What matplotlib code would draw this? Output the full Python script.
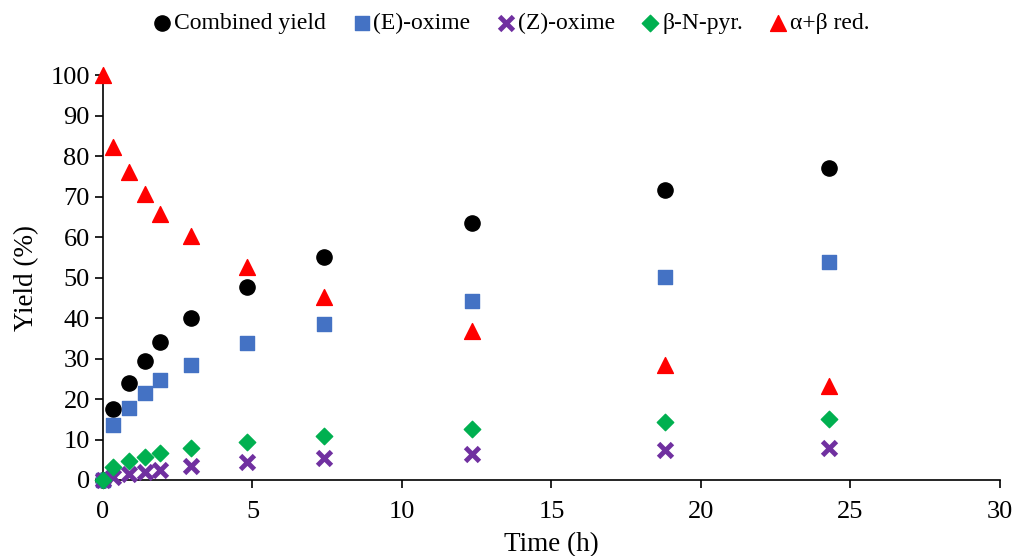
import matplotlib.pyplot as plt

# time points (h)
time = [0, 0.33, 0.87, 1.4, 1.9, 2.94, 4.8, 7.4, 12.34, 18.8, 24.3]

combined = [0, 17.6, 24.0, 29.5, 34.2, 40.0, 47.7, 55.0, 63.5, 71.5, 77.0]
e_oxime = [0, 13.5, 17.8, 21.5, 24.8, 28.3, 33.8, 38.6, 44.3, 50.1, 53.8]
z_oxime = [0, 0.8, 1.5, 2.0, 2.5, 3.4, 4.4, 5.4, 6.5, 7.3, 8.0]
b_n_pyr = [0, 3.3, 4.6, 5.7, 6.6, 7.8, 9.4, 10.8, 12.5, 14.2, 15.0]
ab_red = [100, 82.3, 76.0, 70.6, 65.8, 60.2, 52.5, 45.2, 36.7, 28.5, 23.3]

plt.rcParams['font.family'] = ['Liberation Serif', 'DejaVu Serif']

fig = plt.figure(figsize=(10.14, 5.56), dpi=100)
ax = fig.add_axes([0.1016, 0.1367, 0.8844, 0.7283])

kw = dict(zorder=3, clip_on=False)
ax.scatter(time, combined, marker='o', s=120, color='black', label='Combined yield', **kw)
ax.scatter(time, e_oxime, marker='s', s=100, color='#4472C4', label='(E)-oxime', **kw)
ax.scatter(time, z_oxime, marker='x', s=100, color='#7030A0', linewidths=3.5, label='(Z)-oxime', **kw)
ax.scatter(time, b_n_pyr, marker='D', s=70, color='#00B050', label='β-N-pyr.', **kw)
ax.scatter(time, ab_red, marker='^', s=130, color='#FF0000', label='α+β red.', **kw)

ax.set_xlim(0, 30)
ax.set_ylim(0, 100)
ax.set_xticks(range(0, 31, 5))
ax.set_yticks(range(0, 101, 10))
ax.tick_params(labelsize=19, length=6, width=1.2, direction='out')
ax.tick_params(axis='x', pad=9)
ax.spines['top'].set_visible(False)
ax.spines['right'].set_visible(False)
ax.spines['left'].set_linewidth(1.2)
ax.spines['bottom'].set_linewidth(1.2)

ax.set_xlabel('Time (h)', fontsize=19.5, labelpad=7)
ax.set_ylabel('Yield (%)', fontsize=19.5, labelpad=8)

fig.legend(loc='upper center', bbox_to_anchor=(0.503, 1.015), ncol=5, frameon=False,
           fontsize=17, handletextpad=0.0, handlelength=1.0, columnspacing=1.0,
           markerscale=1.0)

fig.savefig('out.png', dpi=100)
